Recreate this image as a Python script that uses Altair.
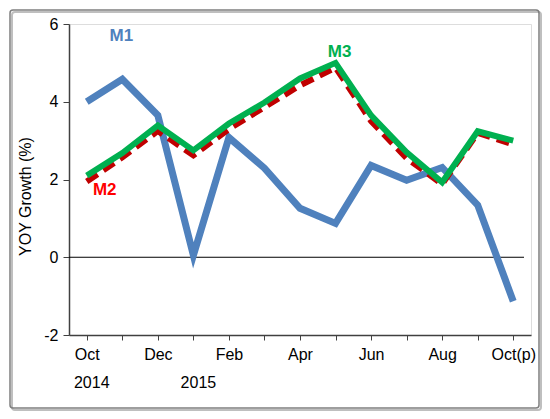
import altair as alt
import pandas as pd

months = ["Oct", "Nov", "Dec", "Jan", "Feb", "Mar", "Apr", "May", "Jun", "Jul", "Aug", "Sep", "Oct(p)"]
m1 = [4.0, 4.58, 3.65, 0.05, 3.08, 2.29, 1.26, 0.87, 2.36, 1.98, 2.31, 1.34, -1.13]
m2 = [1.95, 2.57, 3.25, 2.62, 3.30, 3.86, 4.42, 4.88, 3.50, 2.55, 1.88, 3.20, 2.90]
m3 = [2.10, 2.68, 3.39, 2.75, 3.44, 3.98, 4.60, 5.00, 3.65, 2.70, 1.93, 3.24, 3.00]
series_names = ["M1", "M2", "M3"]
series_colors = ["#4F81BD", "#C00000", "#00B050"]
label_colors = ["#4F81BD", "#FF0000", "#00B050"]
y_ticks = [-2, 0, 2, 4, 6]
year_labels = ["2014", "2015"]
year_months = ["Oct", "Jan"]

W, H = 462, 311
FONT = "Liberation Sans"

rows = []
for name, vals in zip(series_names, [m1, m2, m3]):
    for m, v in zip(months, vals):
        rows.append({"Month": m, "Series": name, "Value": v})
df = pd.DataFrame(rows)

shown = [m for i, m in enumerate(months) if i % 2 == 0]
label_expr = "indexof(" + str(shown).replace("'", '"') + ", datum.value) >= 0 ? datum.value : ''"

x_enc = alt.X("Month:O", sort=months,
              scale=alt.Scale(type="point", padding=0.5),
              axis=alt.Axis(title=None, labelAngle=0, labelExpr=label_expr,
                            labelFont=FONT, labelFontSize=16, labelColor="#000000",
                            tickColor="#404040", tickSize=5, labelPadding=6,
                            domainColor="#404040", domainWidth=1.5, grid=False))
y_scale = alt.Scale(domain=[-2, 6], nice=False)
y_enc = alt.Y("Value:Q", scale=y_scale,
              axis=alt.Axis(title="YOY Growth (%)", values=y_ticks,
                            labelExpr="'' + datum.value",
                            labelFont=FONT, labelFontSize=16, labelColor="#000000",
                            titleFont=FONT, titleFontSize=16, titleFontWeight="normal",
                            titleColor="#000000", titleAngle=270,
                            titleX=-44, titleY=172, titleAlign="center", titleBaseline="middle",
                            tickColor="#404040", tickSize=6, labelPadding=5,
                            domainColor="#404040", domainWidth=1.5, grid=False))

color_scale = alt.Scale(domain=series_names, range=series_colors)

shadow = alt.Chart(pd.DataFrame({"a": [0]})).mark_rect(
    fill=None, stroke="#BFBFBF", strokeWidth=2, cornerRadius=3
).encode(x=alt.value(-57), x2=alt.value(472), y=alt.value(-12), y2=alt.value(386))
frame = alt.Chart(pd.DataFrame({"a": [0]})).mark_rect(
    fill=None, stroke="#7F7F7F", strokeWidth=1.5, cornerRadius=3
).encode(x=alt.value(-59), x2=alt.value(470), y=alt.value(-14), y2=alt.value(384))

zero = alt.Chart(pd.DataFrame({"v": [0]})).mark_rule(color="#000000", strokeWidth=1).encode(
    y=alt.Y("v:Q", scale=y_scale), x=alt.value(0), x2=alt.value(W - 7))

base = alt.Chart(df)
line_m1 = base.transform_filter("datum.Series == 'M1'").mark_line(
    strokeWidth=7, strokeJoin="miter", strokeCap="butt").encode(
    x=x_enc, y=y_enc, color=alt.Color("Series:N", scale=color_scale, legend=None))
line_m2 = base.transform_filter("datum.Series == 'M2'").mark_line(
    strokeWidth=6, strokeDash=[13, 7], strokeJoin="miter", strokeCap="butt").encode(
    x=x_enc, y=y_enc, color=alt.Color("Series:N", scale=color_scale, legend=None))
line_m3 = base.transform_filter("datum.Series == 'M3'").mark_line(
    strokeWidth=6, strokeJoin="miter", strokeCap="butt").encode(
    x=x_enc, y=y_enc, color=alt.Color("Series:N", scale=color_scale, legend=None))

lab_df = pd.DataFrame({
    "Month": ["Nov", "Oct", "May"],
    "Value": [5.70, 1.72, 5.27],
    "Text": series_names,
    "Col": label_colors,
    "dx": [-1, 18, 4],
})
labels = alt.Chart(lab_df).mark_text(font=FONT, fontSize=17, fontWeight="bold", baseline="middle").encode(
    x=alt.X("Month:O", sort=months), y=alt.Y("Value:Q", scale=y_scale),
    text="Text:N", color=alt.Color("Col:N", scale=None),
    xOffset=alt.XOffset("dx:Q", scale=None))

yr_df = pd.DataFrame({"Month": year_months, "Text": year_labels, "dx": [5, 5]})
years = alt.Chart(yr_df).mark_text(font=FONT, fontSize=16, baseline="middle", color="#000000").encode(
    x=alt.X("Month:O", sort=months), y=alt.value(359), text="Text:N",
    xOffset=alt.XOffset("dx:Q", scale=None))

chart = alt.layer(shadow, frame, zero, line_m1, line_m2, line_m3, labels, years).properties(
    width=W, height=H,
    autosize=alt.AutoSizeParams(type="none"),
    padding={"left": 61, "top": 16, "right": 11, "bottom": 76},
).configure_view(stroke="#404040", strokeWidth=1.5).configure(background="white")

chart.save("out.html", embed_options={"renderer": "svg", "actions": False})
